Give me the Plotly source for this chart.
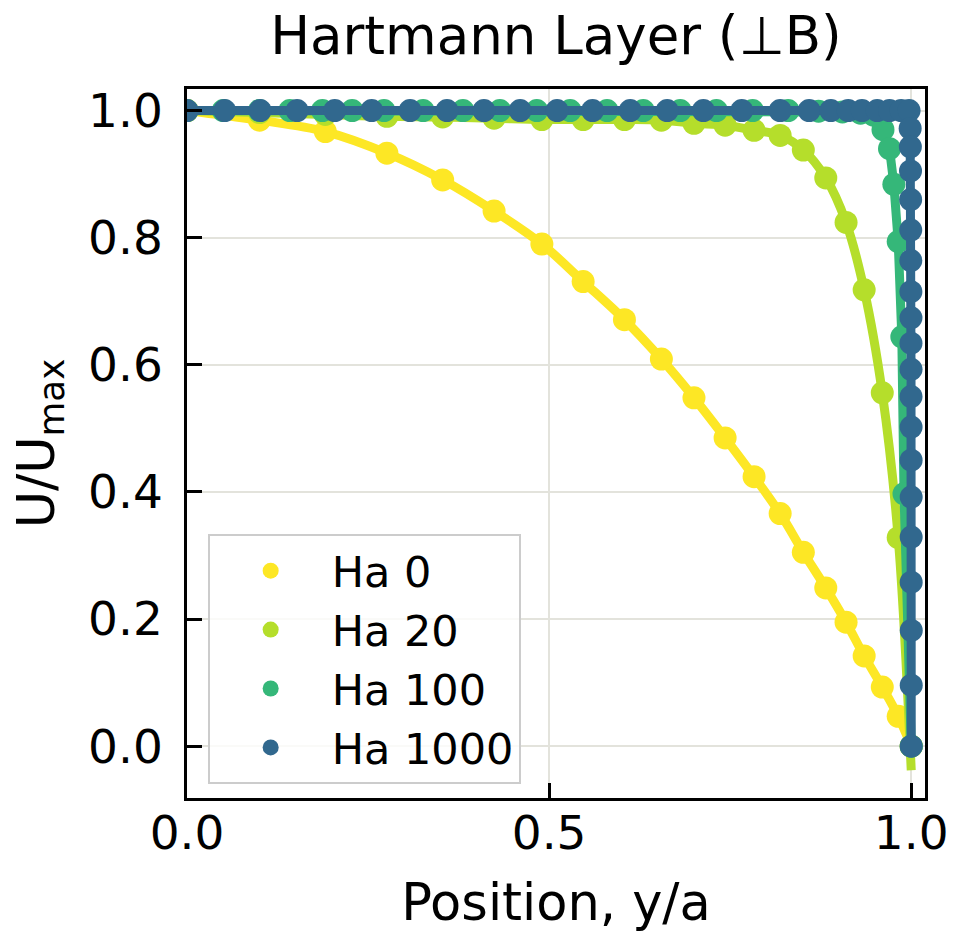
import plotly.graph_objects as go

# ---------------- data ----------------
series_names = ["Ha 0", "Ha 20", "Ha 100", "Ha 1000"]
series_colors = ["#fde725", "#b5de2b", "#35b779", "#31688e"]

x_ha0 = [0.0, 0.100, 0.191, 0.276, 0.353, 0.424, 0.490, 0.547, 0.604, 0.655, 0.700,
         0.743, 0.783, 0.819, 0.851, 0.882, 0.910, 0.935, 0.960, 0.982, 1.000]
y_ha0 = [1.0, 0.985, 0.967, 0.933, 0.891, 0.842, 0.790, 0.731, 0.671, 0.609, 0.548,
         0.485, 0.424, 0.366, 0.305, 0.249, 0.195, 0.142, 0.093, 0.047, 0.0]

x_ha20 = [0.0, 0.100, 0.191, 0.276, 0.353, 0.424, 0.490, 0.547, 0.604, 0.655, 0.700,
          0.743, 0.783, 0.819, 0.851, 0.882, 0.910, 0.935, 0.960, 0.982, 1.000]
y_ha20 = [1.0, 0.997, 0.994, 0.991, 0.990, 0.988, 0.986, 0.986, 0.986, 0.985, 0.980,
          0.977, 0.969, 0.961, 0.938, 0.894, 0.824, 0.718, 0.556, 0.328, 0.0]
# analytic curve for Ha 20 ends slightly below zero at the wall
x_ha20_line = [0.0, 0.100, 0.191, 0.276, 0.353, 0.424, 0.490, 0.547, 0.604, 0.655, 0.700,
               0.743, 0.783, 0.819, 0.851, 0.882, 0.910, 0.935, 0.960, 0.982, 1.000]
y_ha20_line = [1.0, 0.997, 0.994, 0.991, 0.990, 0.988, 0.986, 0.986, 0.986, 0.985, 0.980,
               0.977, 0.969, 0.961, 0.938, 0.894, 0.824, 0.718, 0.556, 0.328, -0.038]

x_ha100 = [0.0, 0.050, 0.100, 0.142, 0.187, 0.228, 0.272, 0.326, 0.381, 0.432, 0.483,
           0.529, 0.580, 0.630, 0.681, 0.731, 0.781, 0.830, 0.872, 0.905, 0.930, 0.948,
           0.961, 0.970, 0.976, 0.982, 0.987, 0.990, 1.000]
y_ha100 = [1.0, 1.0, 1.0, 1.0, 1.0, 1.0, 1.0, 1.0, 1.0, 1.0, 1.0,
           1.0, 1.0, 1.0, 1.0, 1.0, 1.0, 1.0, 0.999, 0.998, 0.996, 0.993,
           0.970, 0.940, 0.884, 0.794, 0.644, 0.397, 0.0]

x_ha1000 = [0.0, 0.052, 0.101, 0.152, 0.204, 0.255, 0.308, 0.359, 0.410, 0.460, 0.511,
            0.560, 0.612, 0.663, 0.713, 0.766, 0.819, 0.859, 0.889, 0.913, 0.932, 0.953,
            0.970, 0.986, 0.997,
            0.9985, 0.9988, 0.9990, 0.9992, 0.9993, 0.9994, 0.9995, 0.9996, 0.9996, 0.9997,
            0.9997, 0.9998, 0.9998, 0.9999, 0.9999, 0.9999, 1.0, 1.0, 1.0]
y_ha1000 = [1.0, 1.0, 1.0, 1.0, 1.0, 1.0, 1.0, 1.0, 1.0, 1.0, 1.0,
            1.0, 1.0, 1.0, 1.0, 1.0, 1.0, 1.0, 1.0, 1.0, 1.0, 1.0,
            1.0, 1.0, 1.0,
            0.972, 0.943, 0.905, 0.860, 0.812, 0.764, 0.715, 0.674, 0.634, 0.593,
            0.550, 0.502, 0.450, 0.392, 0.329, 0.258, 0.182, 0.096, 0.0]

x_ticks = [0.0, 0.5, 1.0]
x_tick_labels = ["0.0", "0.5", "1.0"]
y_ticks = [0.0, 0.2, 0.4, 0.6, 0.8, 1.0]
y_tick_labels = ["0.0", "0.2", "0.4", "0.6", "0.8", "1.0"]

marker_sets = [(x_ha0, y_ha0), (x_ha20, y_ha20), (x_ha100, y_ha100), (x_ha1000, y_ha1000)]
line_sets = [(x_ha0, y_ha0), (x_ha20_line, y_ha20_line), (x_ha100, y_ha100), (x_ha1000, y_ha1000)]
line_shapes = ["spline", "spline", "linear", "linear"]

FONT = "DejaVu Sans"

fig = go.Figure()
for name, col, (mx, my), (lx, ly), shp in zip(series_names, series_colors, marker_sets, line_sets, line_shapes):
    fig.add_trace(go.Scatter(x=lx, y=ly, mode="lines", line=dict(color=col, width=9, shape=shp),
                             showlegend=False, hoverinfo="skip"))
    fig.add_trace(go.Scatter(x=mx, y=my, mode="markers", name=name,
                             marker=dict(color=col, size=23, line=dict(width=0))))

axis_common = dict(
    showline=True, linecolor="black", linewidth=2.5, mirror=True,
    ticks="inside", ticklen=15, tickwidth=3, tickcolor="black",
    showgrid=True, gridcolor="#e3e3dc", gridwidth=2,
    zeroline=False, automargin=False,
    tickfont=dict(family=FONT, size=47, color="black"),
)

fig.update_xaxes(range=[0, 1.019], tickvals=x_ticks, ticktext=x_tick_labels,
                 title=dict(text="Position, y/a", font=dict(family=FONT, size=51, color="black"), standoff=36),
                 ticklabelstandoff=-8, **axis_common)
fig.update_yaxes(range=[-0.0816, 1.034], tickvals=y_ticks, ticktext=y_tick_labels,
                 title=dict(text="U/U<sub>max</sub>", font=dict(family=FONT, size=51, color="black"), standoff=18),
                 ticklabelstandoff=12, **axis_common)

fig.update_layout(
    width=956, height=932,
    margin=dict(l=187, r=31, t=89, b=134, autoexpand=False),
    paper_bgcolor="white", plot_bgcolor="white",
    title=dict(text="Hartmann Layer (\u22a5B)", font=dict(family=FONT, size=53, color="black"),
               x=0.5, xref="paper", xanchor="center", y=1 - 35 / 932, yref="container", yanchor="middle"),
    legend=dict(x=0.028, y=0.372, xanchor="left", yanchor="top",
                bgcolor="rgba(255,255,255,0.8)", bordercolor="#cccccc", borderwidth=2,
                font=dict(family=FONT, size=43, color="black"),
                itemwidth=112, tracegroupgap=0),
    showlegend=True,
)

fig.write_html("out.html")
